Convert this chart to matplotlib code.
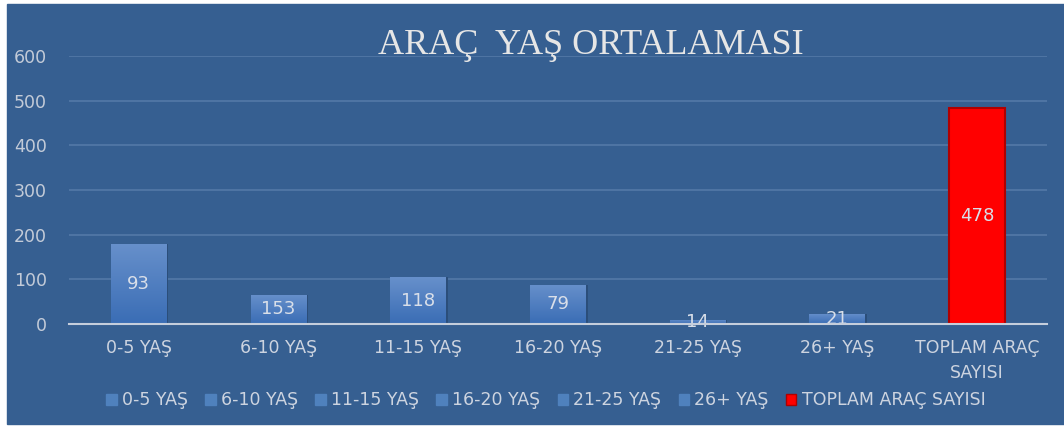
import numpy as np
import matplotlib
matplotlib.use('Agg')
import matplotlib.pyplot as plt
from matplotlib.patches import Rectangle, Patch
from matplotlib.colors import LinearSegmentedColormap

# Values
categories = ['0-5 YAŞ', '6-10 YAŞ', '11-15 YAŞ', '16-20 YAŞ', '21-25 YAŞ', '26+ YAŞ', 'TOPLAM ARAÇ\nSAYISI']
legend_names = ['0-5 YAŞ', '6-10 YAŞ', '11-15 YAŞ', '16-20 YAŞ', '21-25 YAŞ', '26+ YAŞ', 'TOPLAM ARAÇ SAYISI']
bar_heights = [180, 65, 105, 88, 10, 23, 483]
bar_labels = ['93', '153', '118', '79', '14', '21', '478']
yticks = [0, 100, 200, 300, 400, 500, 600]

bg = '#365F91'
txt = '#CDD4E0'
plt.rcParams['font.family'] = ['DejaVu Sans']

fig = plt.figure(figsize=(10.64, 4.28), dpi=100, facecolor='white')
# blue chart area (white margin left / top / bottom as in the screenshot)
fig.patches.append(Rectangle((7 / 1064, 4 / 428), 1 - 7 / 1064, 1 - 8 / 428,
                             transform=fig.transFigure, color=bg, zorder=-5))

ax = fig.add_axes([69 / 1064, 0.243, (1047 - 69) / 1064, 0.626])
ax.set_facecolor('none')
x = np.arange(len(categories))
colors = ['#4F81BD'] * 6 + ['#FF0000']
bars = ax.bar(x, bar_heights, width=0.4, color=colors, zorder=3)

# vertical gradient on the blue bars, a darker rim on the red one
grad = np.linspace(0, 1, 100).reshape(-1, 1)
cmap = LinearSegmentedColormap.from_list('b', ['#3A6DB5', '#6790CB'])
for b, c in zip(bars, colors):
    bx, by, bw, bh = b.get_x(), b.get_y(), b.get_width(), b.get_height()
    if c == '#FF0000':
        b.set_edgecolor('#B00000')
        b.set_linewidth(1.5)
        continue
    im = ax.imshow(grad, cmap=cmap, aspect='auto', origin='lower',
                   extent=[bx, bx + bw, by, by + bh], zorder=3.5)
    im.set_clip_path(b)
    # small shadow on the right side
    ax.add_patch(Rectangle((bx + bw, by), 0.012, bh, color='#2B4E7A', zorder=2.9, lw=0))

ax.bar_label(bars, labels=bar_labels, label_type='center', color='#D9DFE9',
             fontsize=13, zorder=5)

ax.set_xlim(-0.5, 6.5)
ax.set_ylim(0, 600)
ax.set_yticks(yticks)
ax.set_xticks(x)
ax.set_xticklabels(categories, fontsize=12.5, color=txt, linespacing=1.45)
ax.tick_params(axis='y', colors='#C3CBD8', labelsize=12.5, length=0, pad=16)
ax.tick_params(axis='x', length=0, pad=11)
ax.grid(axis='y', color='#5177A6', linewidth=1.3, zorder=0)
for s in ['top', 'right', 'left']:
    ax.spines[s].set_visible(False)
ax.spines['bottom'].set_color('#C5CEDC')
ax.spines['bottom'].set_linewidth(1.5)
ax.spines['bottom'].set_zorder(6)

fig.text(0.555, 0.893, 'ARAÇ  YAŞ ORTALAMASI', family='Liberation Serif',
         fontsize=26, color='#E6E6E6', ha='center', va='center')

handles = [Patch(facecolor=c, edgecolor=('#B00000' if c == '#FF0000' else '#4F81BD'))
           for c in colors]
fig.legend(handles, legend_names, loc='center', bbox_to_anchor=(0.513, 0.065),
           ncol=7, frameon=False, fontsize=12.5, labelcolor=txt,
           handlelength=0.6, handleheight=0.6, handletextpad=0.3,
           columnspacing=1.0)

fig.savefig('out.png', dpi=100, facecolor='white')
